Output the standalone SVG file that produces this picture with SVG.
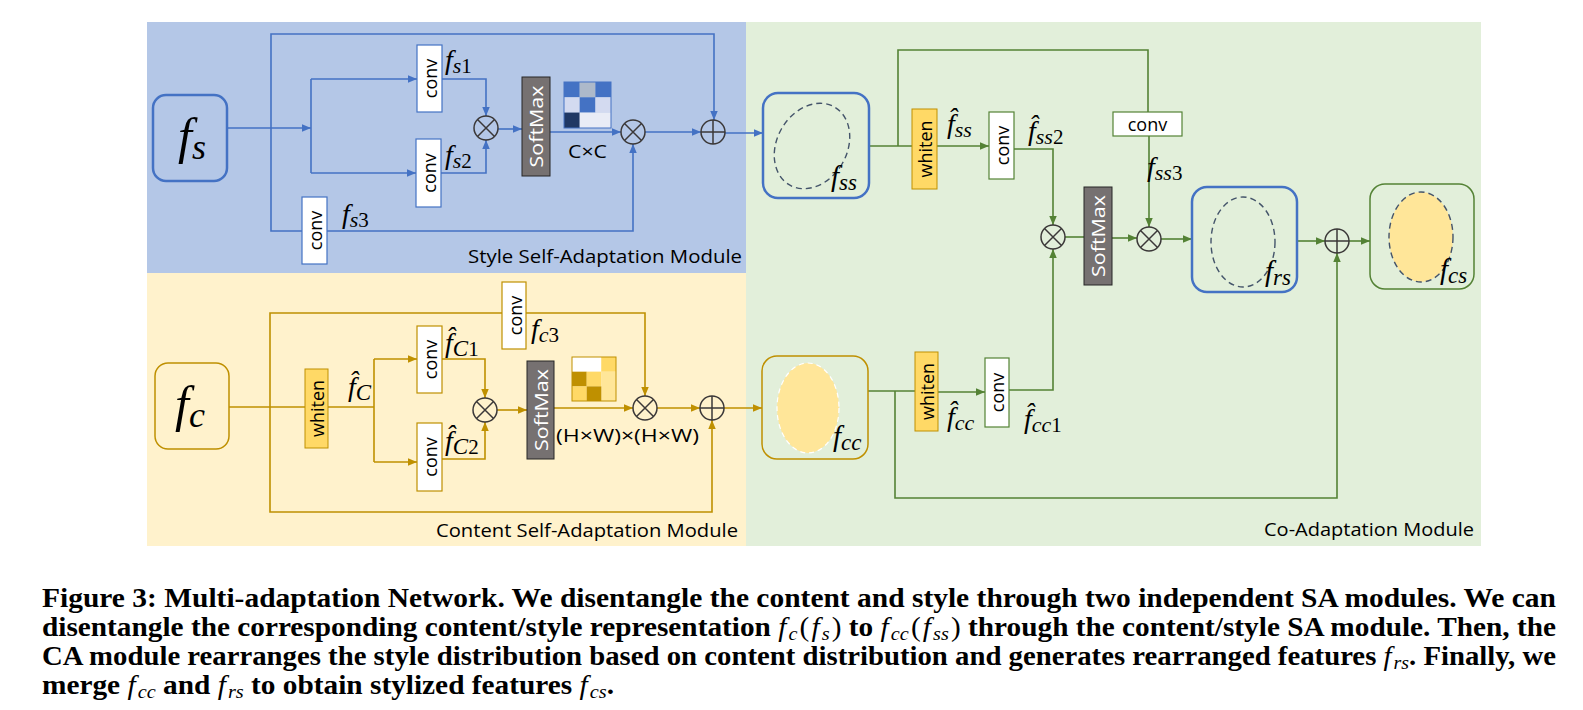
<svg xmlns="http://www.w3.org/2000/svg" width="1583" height="710" viewBox="0 0 1583 710">
<defs>
<style>
.lb{stroke:#4472c4;stroke-width:1.6;fill:none}
.ly{stroke:#bf9000;stroke-width:1.6;fill:none}
.lg{stroke:#548235;stroke-width:1.6;fill:none}
.op{fill:none;stroke:#3b3838;stroke-width:1.5}
.cb{fill:#fff;stroke:#4472c4;stroke-width:1.2}
.cy{fill:#fff;stroke:#bf9000;stroke-width:1.2}
.cg{fill:#fff;stroke:#548235;stroke-width:1.2}
.sm{fill:#767171;stroke:#262626;stroke-width:1}
.wh{fill:#ffd966;stroke:#bf9000;stroke-width:1}
.sans{font-family:"Open Sans","Noto Sans",sans-serif;fill:#000}
.m{font-family:"Liberation Serif","DejaVu Serif",serif;font-style:italic;fill:#000}
.d{font-style:normal}
.cap{font-family:"Liberation Serif","DejaVu Serif",serif;font-weight:bold;font-size:27.5px;fill:#000}
.ci{font-weight:normal;font-style:italic}
</style>
<marker id="ab" markerWidth="10" markerHeight="8" refX="9" refY="3.75" orient="auto" markerUnits="userSpaceOnUse"><path d="M0,0 L9,3.75 L0,7.5 z" fill="#4472c4"/></marker>
<marker id="ay" markerWidth="10" markerHeight="8" refX="9" refY="3.75" orient="auto" markerUnits="userSpaceOnUse"><path d="M0,0 L9,3.75 L0,7.5 z" fill="#bf9000"/></marker>
<marker id="ag" markerWidth="10" markerHeight="8" refX="9" refY="3.75" orient="auto" markerUnits="userSpaceOnUse"><path d="M0,0 L9,3.75 L0,7.5 z" fill="#548235"/></marker>
</defs>

<g id="panels">
<rect x="147" y="22" width="599" height="251" fill="#b4c7e7"/>
<rect x="147" y="273" width="599" height="273" fill="#fff2cc"/>
<rect x="746" y="22" width="735" height="524" fill="#e2efda"/>
<text class="sans" x="468" y="263" font-size="19" textLength="274" lengthAdjust="spacingAndGlyphs">Style Self-Adaptation Module</text>
<text class="sans" x="436" y="537" font-size="19" textLength="302" lengthAdjust="spacingAndGlyphs">Content Self-Adaptation Module</text>
<text class="sans" x="1264" y="536" font-size="19" textLength="210" lengthAdjust="spacingAndGlyphs">Co-Adaptation Module</text>
</g>

<g id="connectors">
<path class="lb" d="M227,128 L311,128" marker-end="url(#ab)"/>
<path class="lb" d="M271,128 L271,34 L714,34 L714,120" marker-end="url(#ab)"/>
<path class="lb" d="M271,128 L271,231 L633,231 L633,144" marker-end="url(#ab)"/>
<path class="lb" d="M311,79 L311,173"/>
<path class="lb" d="M311,79 L417,79" marker-end="url(#ab)"/>
<path class="lb" d="M311,173 L416,173" marker-end="url(#ab)"/>
<path class="lb" d="M442,79 L486,79 L486,116" marker-end="url(#ab)"/>
<path class="lb" d="M441,173 L486,173 L486,140" marker-end="url(#ab)"/>
<path class="lb" d="M498,129 L522,129" marker-end="url(#ab)"/>
<path class="lb" d="M550,132 L621,132" marker-end="url(#ab)"/>
<path class="lb" d="M645,132 L701,132" marker-end="url(#ab)"/>
<path class="lb" d="M725,133 L763,133" marker-end="url(#ab)"/>
<path class="ly" d="M229,407 L305,407"/>
<path class="ly" d="M270,407 L270,313 L645,313 L645,396" marker-end="url(#ay)"/>
<path class="ly" d="M270,407 L270,512 L712,512 L712,420" marker-end="url(#ay)"/>
<path class="ly" d="M328,407 L374,407"/>
<path class="ly" d="M374,359 L374,462"/>
<path class="ly" d="M374,359 L417,359" marker-end="url(#ay)"/>
<path class="ly" d="M374,462 L417,462" marker-end="url(#ay)"/>
<path class="ly" d="M442,359 L485,359 L485,398" marker-end="url(#ay)"/>
<path class="ly" d="M442,459 L485,459 L485,422" marker-end="url(#ay)"/>
<path class="ly" d="M497,410 L527,410" marker-end="url(#ay)"/>
<path class="ly" d="M554,408 L633,408" marker-end="url(#ay)"/>
<path class="ly" d="M657,408 L700,408" marker-end="url(#ay)"/>
<path class="ly" d="M724,408 L762,408" marker-end="url(#ay)"/>
<path class="lg" d="M869,146 L912,146"/>
<path class="lg" d="M898,146 L898,50 L1148,50 L1148,112"/>
<path class="lg" d="M937,146 L989,146" marker-end="url(#ag)"/>
<path class="lg" d="M1014,149 L1053,149 L1053,225" marker-end="url(#ag)"/>
<path class="lg" d="M1065,237 L1084,237"/>
<path class="lg" d="M1112,238 L1137,238" marker-end="url(#ag)"/>
<path class="lg" d="M1149,136 L1149,227" marker-end="url(#ag)"/>
<path class="lg" d="M1161,239 L1192,239" marker-end="url(#ag)"/>
<path class="lg" d="M1297,241 L1325,241" marker-end="url(#ag)"/>
<path class="lg" d="M1349,241 L1370,241" marker-end="url(#ag)"/>
<path class="lg" d="M868,391 L915,391"/>
<path class="lg" d="M938,392 L985,392" marker-end="url(#ag)"/>
<path class="lg" d="M1009,390 L1053,390 L1053,249" marker-end="url(#ag)"/>
<path class="lg" d="M895,391 L895,498 L1337,498 L1337,253" marker-end="url(#ag)"/>
</g>

<g id="fs">
<rect x="153" y="95" width="74" height="86" rx="13" fill="none" stroke="#4472c4" stroke-width="2.5"/>
<text class="m" x="178" y="153" font-size="50">f<tspan font-size="36" dy="6">s</tspan></text>
</g>
<g id="conv-s1"><rect class="cb" x="417" y="45" width="25" height="67"/><text class="sans" font-size="18" transform="translate(430,78.5) rotate(-90)" text-anchor="middle" dominant-baseline="central">conv</text></g>
<g id="conv-s2"><rect class="cb" x="416" y="139" width="25" height="68"/><text class="sans" font-size="18" transform="translate(429,173) rotate(-90)" text-anchor="middle" dominant-baseline="central">conv</text></g>
<g id="conv-s3"><rect class="cb" x="302" y="197" width="25" height="67"/><text class="sans" font-size="18" transform="translate(315,230.5) rotate(-90)" text-anchor="middle" dominant-baseline="central">conv</text></g>
<g id="lbl-s"><text class="m" x="445" y="69" font-size="28">f<tspan font-size="22" dy="4">s</tspan><tspan class="d" font-size="21">1</tspan></text>
<text class="m" x="445" y="164" font-size="28">f<tspan font-size="22" dy="4">s</tspan><tspan class="d" font-size="21">2</tspan></text>
<text class="m" x="342" y="223" font-size="28">f<tspan font-size="22" dy="4">s</tspan><tspan class="d" font-size="21">3</tspan></text></g>
<g id="mul-s1"><circle class="op" cx="486" cy="128" r="12"/><path class="op" d="M477.5,119.5 L494.5,136.5 M494.5,119.5 L477.5,136.5"/></g>
<g id="softmax-s"><rect class="sm" x="522" y="77" width="28" height="99"/><text class="sans" font-size="19" style="fill:#fff" transform="translate(536,126.5) rotate(-90)" text-anchor="middle" dominant-baseline="central" textLength="82" lengthAdjust="spacingAndGlyphs">SoftMax</text></g>
<g id="matrix-s">
<rect x="564" y="82" width="15.7" height="15.3" fill="#4472c4"/>
<rect x="579.7" y="82" width="15.7" height="15.3" fill="#adb9ca"/>
<rect x="595.4" y="82" width="15.6" height="15.3" fill="#4472c4"/>
<rect x="564" y="97.3" width="15.7" height="15.3" fill="#d3daf0"/>
<rect x="579.7" y="97.3" width="15.7" height="15.3" fill="#4472c4"/>
<rect x="595.4" y="97.3" width="15.6" height="15.3" fill="#d3daf0"/>
<rect x="564" y="112.6" width="15.7" height="15.4" fill="#203864"/>
<rect x="579.7" y="112.6" width="31.3" height="15.4" fill="#e9ecf6"/>
<rect x="564" y="82" width="47" height="46" fill="none" stroke="#4472c4" stroke-width="1"/>
<text class="sans" x="568" y="158" font-size="19" textLength="39" lengthAdjust="spacingAndGlyphs">C×C</text>
</g>
<g id="mul-s2"><circle class="op" cx="633" cy="132" r="12"/><path class="op" d="M624.5,123.5 L641.5,140.5 M641.5,123.5 L624.5,140.5"/></g>
<g id="add-s"><circle class="op" cx="713" cy="132" r="12"/><path class="op" d="M701,132 L725,132 M713,120 L713,144"/></g>

<g id="fc">
<rect x="155" y="363" width="74" height="86" rx="13" fill="none" stroke="#bf9000" stroke-width="1.5"/>
<text class="m" x="175" y="421" font-size="50">f<tspan font-size="36" dy="6">c</tspan></text>
</g>
<g id="whiten-c"><rect class="wh" x="305" y="369" width="23" height="79"/><text class="sans" font-size="18" transform="translate(316.5,408.5) rotate(-90)" text-anchor="middle" dominant-baseline="central">whiten</text></g>
<g id="conv-c1"><rect class="cy" x="417" y="326" width="25" height="67"/><text class="sans" font-size="18" transform="translate(430,359.5) rotate(-90)" text-anchor="middle" dominant-baseline="central">conv</text></g>
<g id="conv-c2"><rect class="cy" x="417" y="423" width="25" height="68"/><text class="sans" font-size="18" transform="translate(430,457) rotate(-90)" text-anchor="middle" dominant-baseline="central">conv</text></g>
<g id="conv-c3"><rect class="cy" x="502" y="282" width="24" height="67"/><text class="sans" font-size="18" transform="translate(514.5,315.5) rotate(-90)" text-anchor="middle" dominant-baseline="central">conv</text></g>
<g id="lbl-c"><text class="m" x="348" y="396" font-size="28">f̂<tspan font-size="23" dy="4">C</tspan></text>
<text class="m" x="445" y="352" font-size="28">f̂<tspan font-size="23" dy="4">C</tspan><tspan class="d" font-size="21">1</tspan></text>
<text class="m" x="445" y="450" font-size="28">f̂<tspan font-size="23" dy="4">C</tspan><tspan class="d" font-size="21">2</tspan></text>
<text class="m" x="531" y="338" font-size="28">f<tspan font-size="22" dy="4">c</tspan><tspan class="d" font-size="21">3</tspan></text></g>
<g id="mul-c1"><circle class="op" cx="485" cy="410" r="12"/><path class="op" d="M476.5,401.5 L493.5,418.5 M493.5,401.5 L476.5,418.5"/></g>
<g id="softmax-c"><rect class="sm" x="527" y="361" width="27" height="98"/><text class="sans" font-size="19" style="fill:#fff" transform="translate(540.5,410) rotate(-90)" text-anchor="middle" dominant-baseline="central" textLength="82" lengthAdjust="spacingAndGlyphs">SoftMax</text></g>
<g id="matrix-c">
<rect x="572" y="357" width="29.3" height="14.7" fill="#ffffff"/>
<rect x="601.3" y="357" width="14.7" height="14.7" fill="#ffd966"/>
<rect x="572" y="371.7" width="14.7" height="14.7" fill="#bf9000"/>
<rect x="586.7" y="371.7" width="14.6" height="14.7" fill="#ffd966"/>
<rect x="601.3" y="371.7" width="14.7" height="29.3" fill="#ffe699"/>
<rect x="572" y="386.4" width="14.7" height="14.6" fill="#ffd966"/>
<rect x="586.7" y="386.4" width="14.6" height="14.6" fill="#bf9000"/>
<rect x="572" y="357" width="44" height="44" fill="none" stroke="#bf9000" stroke-width="1"/>
<text class="sans" x="556" y="442" font-size="19" textLength="143" lengthAdjust="spacingAndGlyphs">(H×W)×(H×W)</text>
</g>
<g id="mul-c2"><circle class="op" cx="645" cy="408" r="12"/><path class="op" d="M636.5,399.5 L653.5,416.5 M653.5,399.5 L636.5,416.5"/></g>
<g id="add-c"><circle class="op" cx="712" cy="408" r="12"/><path class="op" d="M700,408 L724,408 M712,396 L712,420"/></g>

<g id="fss">
<rect x="763" y="93" width="106" height="105" rx="15" fill="none" stroke="#4472c4" stroke-width="2.5"/>
<ellipse cx="812" cy="146" rx="35" ry="45" transform="rotate(30 812 146)" fill="none" stroke="#44546a" stroke-width="1.4" stroke-dasharray="6,4"/>
<text class="m" x="831" y="186" font-size="29">f<tspan font-size="23" dy="4">ss</tspan></text>
</g>
<g id="whiten-ss"><rect class="wh" x="912" y="109" width="25" height="80"/><text class="sans" font-size="18" transform="translate(924.5,149) rotate(-90)" text-anchor="middle" dominant-baseline="central">whiten</text></g>
<g id="conv-ss"><rect class="cg" x="989" y="112" width="25" height="67"/><text class="sans" font-size="18" transform="translate(1001.5,145.5) rotate(-90)" text-anchor="middle" dominant-baseline="central">conv</text></g>
<g id="conv-ss3"><rect class="cg" x="1113" y="112" width="69" height="24"/><text class="sans" x="1147.5" y="130.5" font-size="18" text-anchor="middle">conv</text></g>
<g id="lbl-ss"><text class="m" x="947" y="133" font-size="28">f̂<tspan font-size="22" dy="4">ss</tspan></text>
<text class="m" x="1028" y="140" font-size="28">f̂<tspan font-size="22" dy="4">ss</tspan><tspan class="d" font-size="21">2</tspan></text>
<text class="m" x="1147" y="176" font-size="28">f<tspan font-size="22" dy="4">ss</tspan><tspan class="d" font-size="21">3</tspan></text></g>
<g id="mul-ca1"><circle class="op" cx="1053" cy="237" r="12"/><path class="op" d="M1044.5,228.5 L1061.5,245.5 M1061.5,228.5 L1044.5,245.5"/></g>
<g id="softmax-ca"><rect class="sm" x="1084" y="187" width="28" height="98"/><text class="sans" font-size="19" style="fill:#fff" transform="translate(1098,236) rotate(-90)" text-anchor="middle" dominant-baseline="central" textLength="82" lengthAdjust="spacingAndGlyphs">SoftMax</text></g>
<g id="mul-ca2"><circle class="op" cx="1149" cy="239" r="12"/><path class="op" d="M1140.5,230.5 L1157.5,247.5 M1157.5,230.5 L1140.5,247.5"/></g>
<g id="frs">
<rect x="1192" y="187" width="105" height="105" rx="15" fill="none" stroke="#4472c4" stroke-width="2.5"/>
<ellipse cx="1243" cy="242" rx="32" ry="45" fill="none" stroke="#44546a" stroke-width="1.4" stroke-dasharray="6,4"/>
<text class="m" x="1265" y="281" font-size="29">f<tspan font-size="23" dy="4">rs</tspan></text>
</g>
<g id="add-ca"><circle class="op" cx="1337" cy="241" r="12"/><path class="op" d="M1325,241 L1349,241 M1337,229 L1337,253"/></g>
<g id="fcs">
<rect x="1370" y="184" width="104" height="105" rx="15" fill="none" stroke="#548235" stroke-width="1.5"/>
<ellipse cx="1421" cy="237" rx="32" ry="45" fill="#ffe699" stroke="#44546a" stroke-width="1.4" stroke-dasharray="6,4"/>
<text class="m" x="1440" y="279" font-size="29">f<tspan font-size="23" dy="4">cs</tspan></text>
</g>
<g id="fcc">
<rect x="762" y="356" width="106" height="103" rx="15" fill="none" stroke="#bf9000" stroke-width="1.5"/>
<ellipse cx="808" cy="408" rx="31" ry="45" fill="#ffe699" stroke="#ffffff" stroke-width="1.2" stroke-dasharray="5,4"/>
<text class="m" x="833" y="446" font-size="29">f<tspan font-size="23" dy="4">cc</tspan></text>
</g>
<g id="whiten-cc"><rect class="wh" x="915" y="352" width="23" height="79"/><text class="sans" font-size="18" transform="translate(926.5,391.5) rotate(-90)" text-anchor="middle" dominant-baseline="central">whiten</text></g>
<g id="conv-cc"><rect class="cg" x="985" y="358" width="24" height="69"/><text class="sans" font-size="18" transform="translate(997,392.5) rotate(-90)" text-anchor="middle" dominant-baseline="central">conv</text></g>
<g id="lbl-cc"><text class="m" x="947" y="426" font-size="28">f̂<tspan font-size="22" dy="4">cc</tspan></text>
<text class="m" x="1024" y="428" font-size="28">f̂<tspan font-size="22" dy="4">cc</tspan><tspan class="d" font-size="21">1</tspan></text></g>

<g id="caption">
<text class="cap" x="42" y="607" textLength="1514" lengthAdjust="spacingAndGlyphs">Figure 3: Multi-adaptation Network. We disentangle the content and style through two independent SA modules. We can</text>
<text class="cap" x="42" y="636" textLength="1514" lengthAdjust="spacingAndGlyphs">disentangle the corresponding content/style representation <tspan class="ci">f</tspan><tspan class="ci" font-size="19" dx="2" dy="4">c</tspan><tspan font-weight="normal" dx="2" dy="-4">(</tspan><tspan class="ci" dx="2">f</tspan><tspan class="ci" font-size="19" dx="2" dy="4">s</tspan><tspan font-weight="normal" dx="2" dy="-4">)</tspan> to <tspan class="ci">f</tspan><tspan class="ci" font-size="19" dx="2" dy="4">cc</tspan><tspan font-weight="normal" dx="2" dy="-4">(</tspan><tspan class="ci" dx="2">f</tspan><tspan class="ci" font-size="19" dx="2" dy="4">ss</tspan><tspan font-weight="normal" dx="2" dy="-4">)</tspan> through the content/style SA module. Then, the</text>
<text class="cap" x="42" y="665" textLength="1514" lengthAdjust="spacingAndGlyphs">CA module rearranges the style distribution based on content distribution and generates rearranged features <tspan class="ci">f</tspan><tspan class="ci" font-size="19" dx="2" dy="4">rs</tspan><tspan dy="-4">. Finally, we</tspan></text>
<text class="cap" x="42" y="694" textLength="572" lengthAdjust="spacingAndGlyphs">merge <tspan class="ci">f</tspan><tspan class="ci" font-size="19" dx="2" dy="4">cc</tspan><tspan dy="-4"> and </tspan><tspan class="ci">f</tspan><tspan class="ci" font-size="19" dx="2" dy="4">rs</tspan><tspan dy="-4"> to obtain stylized features </tspan><tspan class="ci">f</tspan><tspan class="ci" font-size="19" dx="2" dy="4">cs</tspan><tspan dy="-4">.</tspan></text>
</g>
</svg>
